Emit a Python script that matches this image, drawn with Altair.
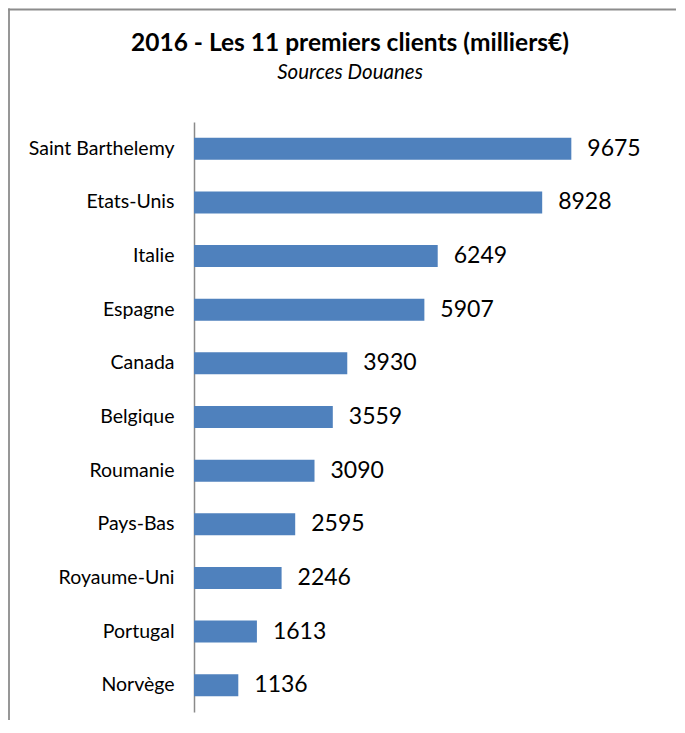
import altair as alt
import pandas as pd

countries = ["Saint Barthelemy", "Etats-Unis", "Italie", "Espagne", "Canada",
             "Belgique", "Roumanie", "Pays-Bas", "Royaume-Uni", "Portugal", "Norvège"]
values = [9675, 8928, 6249, 5907, 3930, 3559, 3090, 2595, 2246, 1613, 1136]

df = pd.DataFrame({"pays": countries, "valeur": values})

W, H = 468, 590
PAD_L, PAD_T, PAD_R, PAD_B = 186, 114, 14, 8

y_enc = alt.Y("pays:N", sort=countries, title=None,
              scale=alt.Scale(paddingInner=0.59, paddingOuter=0.295),
              axis=alt.Axis(domainColor="#8a8a8a", domainWidth=1.5, ticks=False,
                            labelPadding=20, labelFont="Lato", labelFontSize=19.5,
                            labelColor="#000000", grid=False))
x_enc = alt.X("valeur:Q", axis=None, scale=alt.Scale(domain=[0, 12000], nice=False))

bars = alt.Chart(df).mark_bar(color="#4f81bd").encode(x=x_enc, y=y_enc)
labels = alt.Chart(df).mark_text(align="left", baseline="middle", dx=16,
                                 font="Lato", fontSize=23, color="#000000").encode(
    x=x_enc, y=alt.Y("pays:N", sort=countries), text="valeur:Q")

one = alt.Data(values=[{"a": 1}])
left_edge = alt.Chart(one).mark_rule(color="#8c8c8c", strokeWidth=1.8).encode(
    x=alt.value(-PAD_L + 1), y=alt.value(-PAD_T + 0.6), y2=alt.value(H + PAD_B))
top_edge = alt.Chart(one).mark_rule(color="#8c8c8c", strokeWidth=1.8).encode(
    x=alt.value(-PAD_L + 0.1), x2=alt.value(W + PAD_R), y=alt.value(-PAD_T + 1.5))

chart = alt.layer(left_edge, top_edge, bars, labels).properties(
    width=W, height=H,
    title=alt.TitleParams(text="2016 - Les 11 premiers clients (milliers€)",
                          subtitle="Sources Douanes",
                          font="Lato", fontSize=24.5, fontWeight="bold", color="#000000",
                          subtitleFont="Lato", subtitleFontSize=20.5,
                          subtitleFontStyle="italic", subtitleColor="#000000",
                          subtitlePadding=7, anchor="middle", dx=-78, offset=-77,
                          frame="group"),
    autosize=alt.AutoSizeParams(type="none"),
    padding={"left": PAD_L, "top": PAD_T, "right": PAD_R, "bottom": PAD_B},
).configure_view(stroke=None)

chart.save("out.html", embed_options={"renderer": "svg", "actions": False})
